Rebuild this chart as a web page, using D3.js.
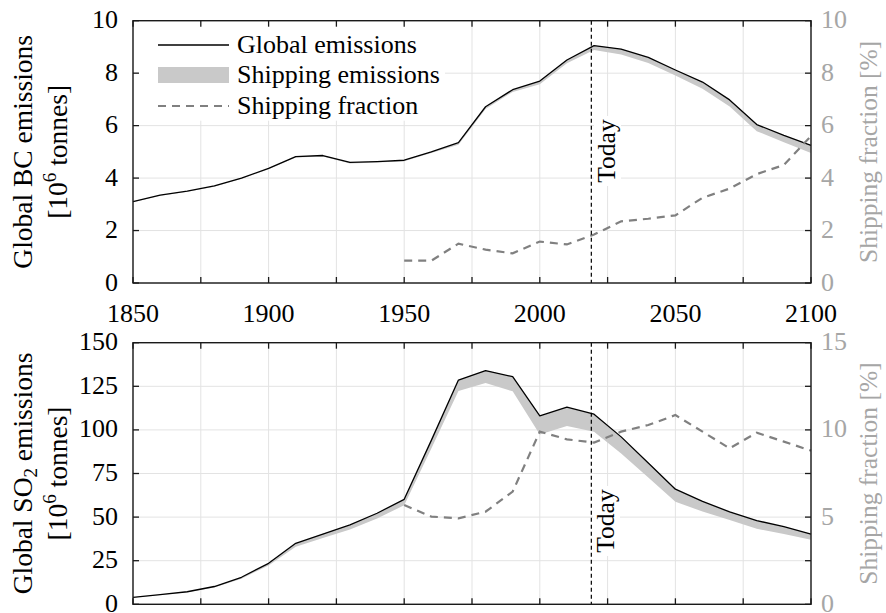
<!DOCTYPE html>
<html>
<head>
<meta charset="utf-8">
<script src="https://cdn.jsdelivr.net/npm/d3@7"></script>
<style>
  html, body { margin: 0; padding: 0; background: #fff; }
  svg { display: block; font-family: "Liberation Serif", "Times New Roman", serif; }
</style>
</head>
<body>
<svg id="chart" width="886" height="613"></svg>
<script>
// ---------------- DATA ----------------
const years = [1850,1860,1870,1880,1890,1900,1910,1920,1930,1940,1950,1960,1970,1980,1990,2000,2010,2020,2030,2040,2050,2060,2070,2080,2090,2100];
const fracYears = [1950,1960,1970,1980,1990,2000,2010,2020,2030,2040,2050,2060,2070,2080,2090,2100];

// Black carbon (10^6 tonnes)
const bcGlobal   = [3.1,3.35,3.5,3.7,4.0,4.37,4.82,4.86,4.6,4.63,4.68,5.0,5.35,6.72,7.37,7.7,8.5,9.05,8.92,8.6,8.12,7.66,6.98,6.04,5.63,5.25];
const bcShipping = [0.02,0.02,0.02,0.03,0.03,0.03,0.04,0.04,0.04,0.04,0.04,0.043,0.08,0.085,0.085,0.12,0.125,0.17,0.21,0.21,0.21,0.25,0.25,0.25,0.26,0.29];
const bcFraction = [0.85,0.85,1.5,1.27,1.13,1.58,1.47,1.85,2.35,2.45,2.58,3.25,3.6,4.15,4.5,5.6];

// SO2 (10^6 tonnes)
const so2Global   = [4.0,5.5,7.2,10.2,15.5,23.5,35,40.3,45.5,52.2,60.2,94,128.6,134,130.5,108,113,109,96,81,66,59,53,48,44.5,40.3];
const so2Shipping = [0.1,0.2,0.3,0.5,0.8,1.2,2.0,2.3,2.6,3.0,3.4,4.7,6.3,7.1,8.4,10.7,10.7,10.1,9.5,8.3,7.2,5.8,4.7,4.7,4.2,3.3];
const so2Fraction = [5.69,5.03,4.93,5.31,6.46,9.9,9.46,9.27,9.9,10.28,10.85,9.9,8.94,9.84,9.33,8.81];

const todayYear = 2019;

const xTicks = [1850,1875,1900,1925,1950,1975,2000,2025,2050,2075,2100];
const xLabels = [1850,1900,1950,2000,2050,2100];
const bcTicks = [0,2,4,6,8,10];
const bcFracTicks = [0,2,4,6,8,10];
const so2Ticks = [0,25,50,75,100,125,150];
const so2FracTicks = [0,2.5,5,7.5,10,12.5,15];
const so2FracLabels = [0,5,10,15];

const legendItems = ["Global emissions","Shipping emissions","Shipping fraction"];

// ---------------- LAYOUT ----------------
const svg = d3.select("#chart");
const X0 = 133, X1 = 811;
const x = d3.scaleLinear().domain([1850,2100]).range([X0,X1]);

const C = {
  grid: "#e3e3e3",
  band: "#c9c9c9",
  frac: "#808080",
  rightText: "#a6a6a6",
  frame: "#1a1a1a"
};
const FS = 26;

function panel(opts) {
  const {top, bottom, yMax, yTicks, fracMax, fracTicks, fracLabels, global, shipping, fraction, todayY} = opts;
  const y = d3.scaleLinear().domain([0,yMax]).range([bottom, top]);
  const yr = d3.scaleLinear().domain([0,fracMax]).range([bottom, top]);
  const g = svg.append("g");

  // grid
  g.append("g").selectAll("line.v").data(xTicks).join("line")
    .attr("x1", d=>x(d)).attr("x2", d=>x(d)).attr("y1", top).attr("y2", bottom)
    .attr("stroke", C.grid).attr("stroke-width", 1);
  g.append("g").selectAll("line.h").data(yTicks).join("line")
    .attr("x1", X0).attr("x2", X1).attr("y1", d=>y(d)).attr("y2", d=>y(d))
    .attr("stroke", C.grid).attr("stroke-width", 1);

  if (opts.legend) {
    g.append("rect").attr("x", 138).attr("y", top+1).attr("width", 307).attr("height", 99).attr("fill", "#fff");
  }

  // Today text background
  g.append("rect").attr("x", todayY.x - 21).attr("y", todayY.cy - 35).attr("width", 27).attr("height", 70).attr("fill", "#fff");

  // shipping band
  const area = d3.area()
    .x((d,i)=>x(years[i]))
    .y0((d,i)=>y(global[i]-shipping[i]))
    .y1((d,i)=>y(global[i]));
  g.append("path").datum(global).attr("d", area).attr("fill", C.band).attr("stroke", "none");

  // global line
  const line = d3.line().x((d,i)=>x(years[i])).y(d=>y(d));
  g.append("path").datum(global).attr("d", line).attr("fill","none").attr("stroke","#000").attr("stroke-width",1.3).attr("stroke-linejoin","round");

  // fraction line
  const fline = d3.line().x((d,i)=>x(fracYears[i])).y(d=>yr(d));
  g.append("path").datum(fraction).attr("d", fline).attr("fill","none").attr("stroke",C.frac).attr("stroke-width",2.2).attr("stroke-dasharray","8,6");

  // today line
  g.append("line").attr("x1", x(todayYear)).attr("x2", x(todayYear)).attr("y1", top).attr("y2", bottom)
    .attr("stroke","#000").attr("stroke-width",1.2).attr("stroke-dasharray","4,3");
  g.append("text").attr("transform", `translate(${todayY.x},${todayY.cy}) rotate(-90)`)
    .attr("text-anchor","middle").attr("font-size", 25.5).attr("fill","#000").text("Today");

  // frame
  g.append("rect").attr("x", X0).attr("y", top).attr("width", X1-X0).attr("height", bottom-top)
    .attr("fill","none").attr("stroke", C.frame).attr("stroke-width", 1.4);

  // ticks (inward)
  const tl = 6;
  g.append("g").selectAll("line").data(xTicks).join("line")
    .attr("x1", d=>x(d)).attr("x2", d=>x(d)).attr("y1", bottom).attr("y2", bottom-tl).attr("stroke", C.frame).attr("stroke-width",1.3);
  g.append("g").selectAll("line").data(xTicks).join("line")
    .attr("x1", d=>x(d)).attr("x2", d=>x(d)).attr("y1", top).attr("y2", top+tl).attr("stroke", C.frame).attr("stroke-width",1.3);
  g.append("g").selectAll("line").data(yTicks).join("line")
    .attr("x1", X0).attr("x2", X0+tl).attr("y1", d=>y(d)).attr("y2", d=>y(d)).attr("stroke", C.frame).attr("stroke-width",1.3);
  g.append("g").selectAll("line").data(fracTicks).join("line")
    .attr("x1", X1).attr("x2", X1-tl).attr("y1", d=>yr(d)).attr("y2", d=>yr(d)).attr("stroke", C.frame).attr("stroke-width",1.3);

  // left tick labels
  g.append("g").selectAll("text").data(yTicks).join("text")
    .attr("x", 118).attr("y", d=>y(d)+7.5).attr("text-anchor","end").attr("font-size", FS).attr("fill","#000").text(d=>d);
  // right tick labels
  g.append("g").selectAll("text").data(fracLabels).join("text")
    .attr("x", 821).attr("y", d=>yr(d)+7.5).attr("text-anchor","start").attr("font-size", FS).attr("fill", C.rightText).text(d=>d);

  // axis titles
  const cy = (top+bottom)/2;
  const t1 = g.append("text").attr("transform", `translate(32,${cy}) rotate(-90)`).attr("text-anchor","middle").attr("font-size", 27.5).attr("fill","#000");
  t1.append("tspan").text(opts.title1a);
  if (opts.title1sub) {
    t1.append("tspan").attr("font-size", 19).attr("dy", 5).text(opts.title1sub);
    t1.append("tspan").attr("dy", -5).text(" emissions");
  }
  const t2 = g.append("text").attr("transform", `translate(67,${cy}) rotate(-90)`).attr("text-anchor","middle").attr("font-size", 27.5).attr("fill","#000");
  t2.append("tspan").text("[10");
  t2.append("tspan").attr("font-size", 19).attr("dy", -11).text("6");
  t2.append("tspan").attr("dy", 11).text(" tonnes]");

  g.append("text").attr("transform", `translate(877,${cy}) rotate(-90)`).attr("text-anchor","middle").attr("font-size", 25.5).attr("fill", C.rightText)
    .text("Shipping fraction [%]");

  return {y, yr};
}

panel({
  top: 20.7, bottom: 283, yMax: 10, yTicks: bcTicks, fracMax: 10, fracTicks: bcFracTicks, fracLabels: bcFracTicks,
  global: bcGlobal, shipping: bcShipping, fraction: bcFraction, todayY: {x: 615, cy: 151},
  title1a: "Global BC emissions", legend: true
});
panel({
  top: 342.7, bottom: 604.3, yMax: 150, yTicks: so2Ticks, fracMax: 15, fracTicks: so2FracTicks, fracLabels: so2FracLabels,
  global: so2Global, shipping: so2Shipping, fraction: so2Fraction, todayY: {x: 614, cy: 521},
  title1a: "Global SO", title1sub: "2"
});

// x labels (between panels)
svg.append("g").selectAll("text").data(xLabels).join("text")
  .attr("x", d=>x(d)).attr("y", 322).attr("text-anchor","middle").attr("font-size", FS).attr("fill","#000").text(d=>d);

// legend
const lg = svg.append("g");
const rowsY = [45, 75, 106];
lg.append("line").attr("x1",158).attr("x2",229).attr("y1",rowsY[0]).attr("y2",rowsY[0]).attr("stroke","#000").attr("stroke-width",1.3);
lg.append("rect").attr("x",158).attr("y",rowsY[1]-8).attr("width",71).attr("height",16).attr("fill",C.band);
lg.append("line").attr("x1",158).attr("x2",229).attr("y1",rowsY[2]).attr("y2",rowsY[2]).attr("stroke",C.frac).attr("stroke-width",2.2).attr("stroke-dasharray","8,6");
lg.selectAll("text").data(legendItems).join("text")
  .attr("x", 237).attr("y", (d,i)=>rowsY[i]+8).attr("font-size", 26).attr("fill","#000").text(d=>d);
</script>
</body>
</html>
